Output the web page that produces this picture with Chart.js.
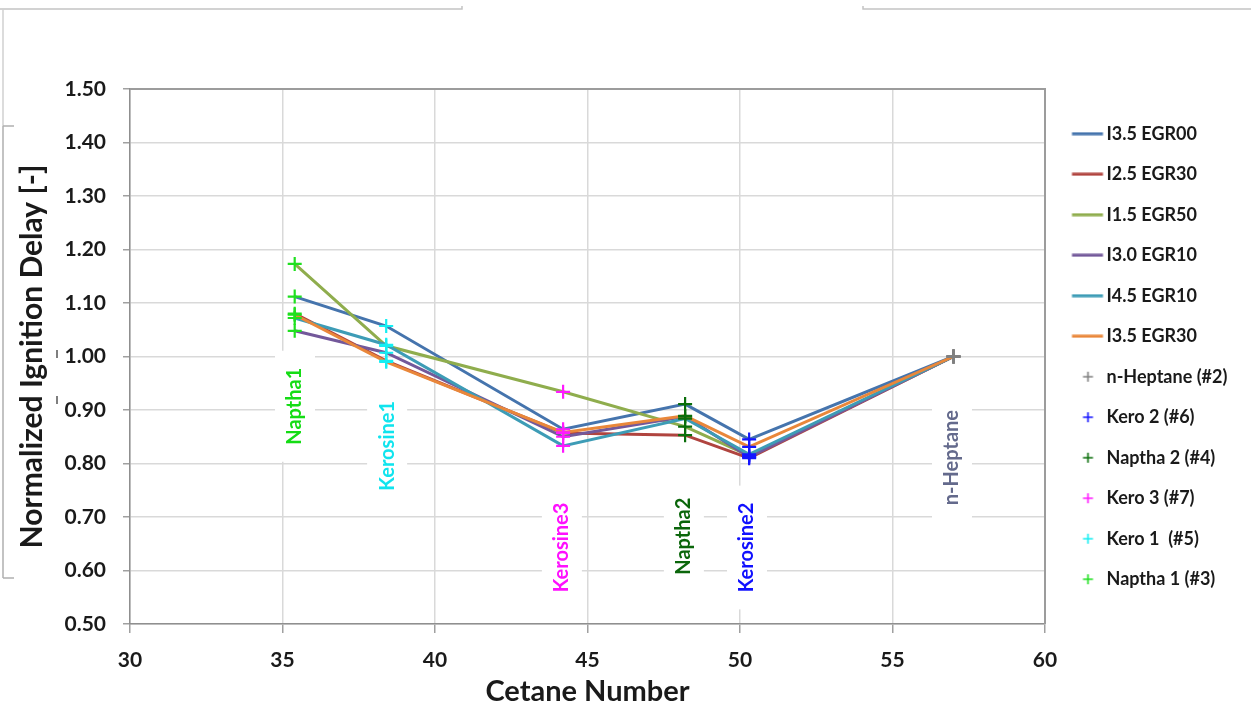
<!DOCTYPE html>
<html>
<head>
<meta charset="utf-8">
<script src="https://cdn.jsdelivr.net/npm/chart.js@4.4.1/dist/chart.umd.min.js"></script>
<style>
html,body{margin:0;padding:0;background:#ffffff;}
#wrap{width:1251px;height:711px;position:relative;}
</style>
</head>
<body>
<div id="wrap"><canvas id="c" width="1251" height="711"></canvas></div>
<script>
// ---------------- DATA ----------------
const fuelLabels = ['Naptha 1 (#3)', 'Kero 1  (#5)', 'Kero 3 (#7)', 'Naptha 2 (#4)', 'Kero 2 (#6)', 'n-Heptane (#2)'];
const cetaneNumber = [35.4, 38.4, 44.2, 48.2, 50.3, 57.0];
const fuelColors = ['#1fe01f', '#14eef2', '#ff1aff', '#0a6e0a', '#1414ff', '#808080'];

const conditionNames = ['I3.5 EGR00', 'I2.5 EGR30', 'I1.5 EGR50', 'I3.0 EGR10', 'I4.5 EGR10', 'I3.5 EGR30'];
const conditionColors = ['#4574ad', '#b0443f', '#8fad4d', '#73589a', '#3d9cb6', '#e9873a'];
const i35_egr00 = [1.112, 1.057, 0.864, 0.911, 0.845, 1.000];
const i25_egr30 = [1.080, 0.992, 0.857, 0.853, 0.810, 1.000];
const i15_egr50 = [1.173, 1.020, 0.934, 0.869, 0.815, 1.000];
const i30_egr10 = [1.048, 1.007, 0.850, 0.888, 0.812, 1.000];
const i45_egr10 = [1.072, 1.022, 0.833, 0.884, 0.817, 1.000];
const i35_egr30 = [1.078, 0.990, 0.858, 0.889, 0.831, 1.000];
const seriesValues = [i35_egr00, i25_egr30, i15_egr50, i30_egr10, i45_egr10, i35_egr30];

const xTickValues = [30, 35, 40, 45, 50, 55, 60];
const yTickValues = [0.5, 0.6, 0.7, 0.8, 0.9, 1.0, 1.1, 1.2, 1.3, 1.4, 1.5];

// in-plot fuel annotations (text, anchor in data units)
const noteTexts = ['Naptha1', 'Kerosine1', 'Kerosine3', 'Naptha2', 'Kerosine2', 'n-Heptane'];
const noteColors = ['#14dc14', '#10e4ee', '#ff10ff', '#0b660b', '#1010ff', '#646a8c'];
const noteX = [35.41, 38.43, 44.16, 48.16, 50.23, 56.95];
const noteY = [0.907, 0.833, 0.643, 0.664, 0.643, 0.811];

// ---------------- BUILD ----------------
const FONT = 'Lato, "Open Sans", "DejaVu Sans", sans-serif';
Chart.defaults.font.family = FONT;
Chart.defaults.color = '#1a1a1a';

const datasets = [];
conditionNames.forEach((name, s) => {
  datasets.push({
    label: name,
    data: cetaneNumber.map((x, i) => ({x: x, y: seriesValues[s][i]})),
    showLine: true,
    borderColor: conditionColors[s],
    backgroundColor: conditionColors[s],
    borderWidth: 3,
    pointRadius: 0,
    pointHoverRadius: 0,
    tension: 0,
    order: 10 - s
  });
});
// marker series, legend order: n-Heptane, Kero 2, Naptha 2, Kero 3, Kero 1, Naptha 1
[5, 4, 3, 2, 1, 0].forEach(f => {
  datasets.push({
    label: fuelLabels[f],
    data: seriesValues.map(v => ({x: cetaneNumber[f], y: v[f]})),
    showLine: false,
    borderColor: fuelColors[f],
    backgroundColor: fuelColors[f],
    pointStyle: 'cross',
    pointRadius: 7,
    pointBorderWidth: 2.2,
    pointHoverRadius: 7,
    order: 0
  });
});

// legend swatches
function lineSwatch(color) {
  const c = document.createElement('canvas');
  c.width = 44; c.height = 4;
  const g = c.getContext('2d');
  g.fillStyle = color; g.fillRect(11.5, 0.5, 31, 3);
  return c;
}
function crossSwatch(color) {
  const c = document.createElement('canvas');
  c.width = 30; c.height = 12;
  const g = c.getContext('2d');
  g.strokeStyle = color; g.lineWidth = 1.6;
  g.beginPath();
  g.moveTo(20.5 - 5, 6); g.lineTo(20.5 + 5, 6);
  g.moveTo(20.5, 1); g.lineTo(20.5, 11);
  g.stroke();
  return c;
}

const LEG_FONT_SIZE = 18;
const LEG_PAD = 22.5;
const LEG_BOX = 30;
const meas = document.createElement('canvas').getContext('2d');
meas.font = 'bold ' + LEG_FONT_SIZE + 'px ' + FONT;
let maxTextW = 0;
datasets.forEach(d => { maxTextW = Math.max(maxTextW, meas.measureText(d.label).width); });
const legendW = LEG_PAD + LEG_BOX + LEG_FONT_SIZE / 2 + maxTextW + 10;
const PLOT_RIGHT = 1045;
const padRight = Math.max(0, 1251 - PLOT_RIGHT - legendW);

const fuelNotes = {
  id: 'fuelNotes',
  beforeDatasetsDraw(chart) {
    const ctx = chart.ctx;
    const xs = chart.scales.x, ys = chart.scales.y;
    const a = chart.chartArea;
    // plot frame (top/right)
    ctx.save();
    ctx.strokeStyle = '#9c9c9c';
    ctx.lineWidth = 2;
    ctx.beginPath();
    ctx.moveTo(a.left, a.top); ctx.lineTo(a.right, a.top); ctx.lineTo(a.right, a.bottom);
    ctx.stroke();
    ctx.restore();
    ctx.save();
    ctx.font = 'bold 20px ' + FONT;
    noteTexts.forEach((t, i) => {
      const px = xs.getPixelForValue(noteX[i]);
      const py = ys.getPixelForValue(noteY[i]);
      const w = ctx.measureText(t).width;
      ctx.fillStyle = '#ffffff';
      ctx.fillRect(px - 20, py - w / 2 - 17, 40, w + 34);
      ctx.save();
      ctx.translate(px, py);
      ctx.rotate(-Math.PI / 2);
      ctx.fillStyle = noteColors[i];
      ctx.textAlign = 'center';
      ctx.textBaseline = 'middle';
      ctx.fillText(t, 0, 0);
      ctx.restore();
    });
    ctx.restore();
  },
  afterDraw(chart) {
    const ctx = chart.ctx;
    ctx.save();
    ctx.strokeStyle = '#c4c4c4';
    ctx.lineWidth = 1.5;
    ctx.beginPath();
    ctx.moveTo(0, 9); ctx.lineTo(462, 9); ctx.lineTo(462, 6);
    ctx.moveTo(863, 6); ctx.lineTo(863, 9); ctx.lineTo(1251, 9);
    ctx.stroke();
    ctx.strokeStyle = '#d0d0d0';
    ctx.beginPath();
    ctx.moveTo(3, 9); ctx.lineTo(3, 126);
    ctx.stroke();
    ctx.strokeStyle = '#b0b0b0';
    ctx.beginPath();
    ctx.moveTo(3, 126); ctx.lineTo(3, 578);
    ctx.moveTo(3, 126); ctx.lineTo(14, 126);
    ctx.moveTo(3, 578); ctx.lineTo(14, 578);
    ctx.stroke();
    ctx.strokeStyle = '#555555';
    ctx.lineWidth = 1.5;
    ctx.beginPath();
    ctx.moveTo(57, 350); ctx.lineTo(57, 358);
    ctx.moveTo(57, 396); ctx.lineTo(57, 404);
    ctx.stroke();
    ctx.restore();
  }
};

new Chart(document.getElementById('c'), {
  type: 'scatter',
  data: { datasets: datasets },
  options: {
    responsive: false,
    animation: false,
    events: [],
    layout: { padding: { top: 89, right: padRight, bottom: 0, left: 0 } },
    plugins: {
      tooltip: { enabled: false },
      title: { display: false },
      legend: {
        position: 'right',
        fullSize: false,
        align: 'center',
        labels: {
          usePointStyle: true,
          pointStyleWidth: LEG_BOX,
          boxHeight: 8,
          padding: LEG_PAD,
          color: '#1a1a1a',
          font: { size: LEG_FONT_SIZE, weight: 'bold', family: FONT },
          sort: (a, b) => a.datasetIndex - b.datasetIndex,
          generateLabels(chart) {
            return chart.data.datasets.map((d, i) => ({
              text: d.label,
              datasetIndex: i,
              fillStyle: d.borderColor,
              strokeStyle: d.borderColor,
              lineWidth: 0,
              hidden: false,
              fontColor: '#1a1a1a',
              pointStyle: d.showLine ? lineSwatch(d.borderColor) : crossSwatch(d.borderColor)
            }));
          }
        }
      }
    },
    scales: {
      x: {
        type: 'linear',
        position: 'bottom',
        min: 30, max: 60,
        afterBuildTicks(scale) { scale.ticks = xTickValues.map(v => ({value: v})); },
        afterFit(scale) { scale.height = 87; },
        ticks: {
          padding: 15,
          color: '#1a1a1a',
          font: { size: 21, weight: 'bold' },
          callback: v => String(v),
          maxRotation: 0
        },
        grid: { color: '#d9d9d9', lineWidth: 1.5, tickLength: 9, tickColor: '#a0a0a0', drawTicks: true },
        border: { color: '#8f8f8f', width: 1.5 },
        title: {
          display: true,
          text: 'Cetane Number',
          color: '#1a1a1a',
          font: { size: 29, weight: 'bold' },
          padding: { top: 0, bottom: 2 }
        }
      },
      y: {
        type: 'linear',
        min: 0.5, max: 1.5,
        afterBuildTicks(scale) { scale.ticks = yTickValues.map(v => ({value: v})); },
        afterFit(scale) { scale.width = 130; },
        ticks: {
          padding: 17,
          color: '#1a1a1a',
          font: { size: 21, weight: 'bold' },
          callback: v => Number(v).toFixed(2)
        },
        grid: { color: '#d9d9d9', lineWidth: 1.5, tickLength: 7, tickColor: '#a0a0a0' },
        border: { color: '#8f8f8f', width: 1.5 },
        title: {
          display: true,
          text: 'Normalized Ignition Delay [-]',
          color: '#1a1a1a',
          font: { size: 30, weight: 'bold' },
          padding: { top: 14, bottom: 0 }
        }
      }
    }
  },
  plugins: [fuelNotes]
});
</script>
</body>
</html>
